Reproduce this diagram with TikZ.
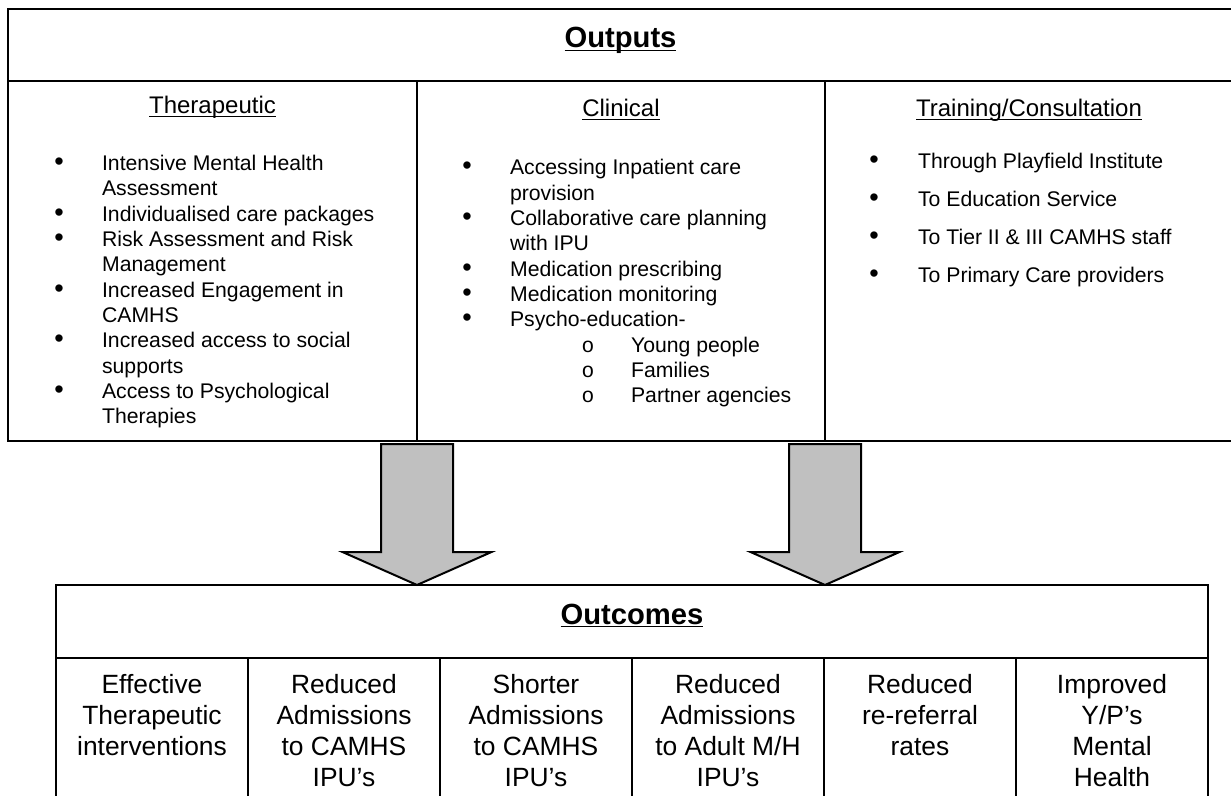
\documentclass[tikz,border=0pt]{standalone}
\usepackage{fontspec}
\setmainfont{Liberation Sans}
\setmonofont{Liberation Mono}
\usepackage{tikz}
\usetikzlibrary{positioning,calc}
\definecolor{arrowgray}{RGB}{192,192,192}
\newcommand{\ulin}[1]{\underline{\smash{#1}}}
\newcommand{\bul}{{\fontsize{13.5}{12}\selectfont\textbullet}}

\begin{document}
\begin{tikzpicture}[
    x=0.5pt, y=-0.5pt,
    line width=1pt,
    tablebox/.style={
		draw=black,
		rectangle,
		inner sep=0pt,
		outer sep=0pt,
		anchor=north west
	},
    maintitle/.style={
		font=\fontsize{14.6}{17}\selectfont\bfseries,
		inner sep=0pt,
		anchor=base
	},
    colhead/.style={
		font=\fontsize{12}{14}\selectfont,
		inner sep=0pt,
		anchor=base
	},
    itemlist/.style={
		font=\fontsize{10.6}{12.65}\selectfont,
		inner sep=0pt,
		anchor=base west
	},
    outcell/.style={
		tablebox,
		font=\fontsize{13.2}{15.5}\selectfont
	},
    bigarrow/.style={
		draw=black,
		fill=arrowgray,
		line join=miter
	}
  ]
  \useasboundingbox (0,0) rectangle (1231,796);

  % Outputs table
  \node [tablebox, minimum width=612.5pt, minimum height=36pt] (outhdr) at (8,9) {};
  \node [maintitle] (outputstitle) at (620.5,48) {\ulin{Outputs}};

  \node [tablebox, minimum width=204.5pt, minimum height=180pt] (ther) at (outhdr.south west) {};
  \node [tablebox, minimum width=204pt, minimum height=180pt] (clin) at (ther.north east) {};
  \node [tablebox, minimum width=204pt, minimum height=180pt] (train) at (clin.north east) {};

  \node [colhead] (therhead) at ($(ther.north)+(0,33)$) {\ulin{Therapeutic}};
  \node [colhead] (clinhead) at ($(clin.north)+(0,36)$) {\ulin{Clinical}};
  \node [colhead] (trainhead) at ($(train.north)+(0,36)$) {\ulin{Training/Consultation}};

  \node [itemlist] (therlist) at (53.3,170.7)
 {%
 \begin{tabular}[t]{@{}p{23.9pt}@{}l@{}}
  \bul & Intensive Mental Health\\
   & Assessment\\
  \bul & Individualised care packages\\
  \bul & Risk Assessment and Risk\\
   & Management\\
  \bul & Increased Engagement in\\
   & CAMHS\\
  \bul & Increased access to social\\
   & supports\\
  \bul & Access to Psychological\\
   & Therapies
 \end{tabular}
 };

  \node [itemlist] (clinlist) at (461.3,175)
 {%
 \begin{tabular}[t]{@{}p{23.9pt}@{}l@{}}
  \bul & Accessing Inpatient care\\
   & provision\\
  \bul & Collaborative care planning\\
   & with IPU\\
  \bul & Medication prescribing\\
  \bul & Medication monitoring\\
  \bul & Psycho-education-\\
   & \hspace*{35.8pt}\makebox[24.7pt][l]{\texttt{o}}Young people\\
   & \hspace*{35.8pt}\makebox[24.7pt][l]{\texttt{o}}Families\\
   & \hspace*{35.8pt}\makebox[24.7pt][l]{\texttt{o}}Partner agencies
 \end{tabular}
 };

  \node [itemlist] (trainlist) at (868.3,169)
 {%
 \begin{tabular}[t]{@{}p{24.4pt}@{}l@{}}
  \bul & Through Playfield Institute\\[6.35pt]
  \bul & To Education Service\\[6.35pt]
  \bul & To Tier II \& III CAMHS staff\\[6.35pt]
  \bul & To Primary Care providers
 \end{tabular}
 };

  % Outcomes table
  \node [tablebox, minimum width=576pt, minimum height=36.5pt] (outhead) at (56,585) {};
  \node [maintitle] (outcomestitle) at (632,624) {\ulin{Outcomes}};

  \node [outcell] (effective) at (outhead.south west)
 {\parbox[c][96pt][t]{96pt}{\centering\rule{0pt}{17.5pt}Effective\\Therapeutic\\interventions}};
  \node [outcell, right=0pt of effective] (redcamhs)
 {\parbox[c][96pt][t]{96pt}{\centering\rule{0pt}{17.5pt}Reduced\\Admissions\\to CAMHS\\IPU’s}};
  \node [outcell, right=0pt of redcamhs] (shortcamhs)
 {\parbox[c][96pt][t]{96pt}{\centering\rule{0pt}{17.5pt}Shorter\\Admissions\\to CAMHS\\IPU’s}};
  \node [outcell, right=0pt of shortcamhs] (redadult)
 {\parbox[c][96pt][t]{96pt}{\centering\rule{0pt}{17.5pt}Reduced\\Admissions\\to Adult M/H\\IPU’s}};
  \node [outcell, right=0pt of redadult] (rereferral)
 {\parbox[c][96pt][t]{96pt}{\centering\rule{0pt}{17.5pt}Reduced\\re-referral\\rates}};
  \node [outcell, right=0pt of rereferral] (mentalhealth)
 {\parbox[c][96pt][t]{96pt}{\centering\rule{0pt}{17.5pt}Improved\\Y/P’s\\Mental\\Health}};

  % block arrows from outputs to outcomes
  \foreach \col in {ther,clin}{
    \draw [bigarrow] ($(\col.south east)+(-36,3)$) -- ++(72,0) -- ++(0,108) -- ++(38.5,0)
      -- (\col.south east |- outhead.north) -- ++(-74.5,-33) -- ++(38.5,0) -- cycle;
  }

\end{tikzpicture}
\end{document}
